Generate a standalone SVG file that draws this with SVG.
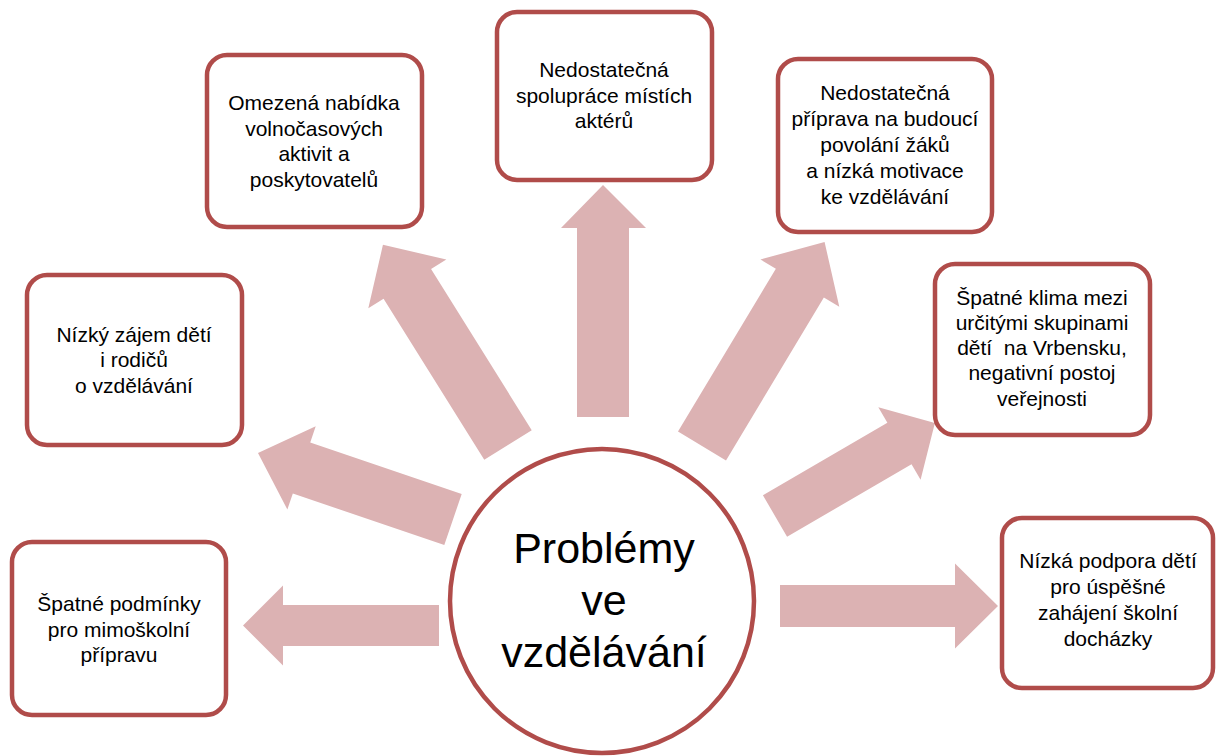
<svg xmlns="http://www.w3.org/2000/svg" width="1216" height="756" viewBox="0 0 1216 756">
<style>
.box{fill:#ffffff;stroke:#b04c4a;stroke-width:4.5}
.arr{fill:#dcb2b3}
.t{font-family:"Liberation Sans",Arial,sans-serif;font-size:21px;fill:#000;text-anchor:middle}
.c{font-family:"Liberation Sans",Arial,sans-serif;font-size:43px;fill:#000;text-anchor:middle}
</style>
<rect width="1216" height="756" fill="#ffffff"/>
<g id="connectors">
<polygon class="arr" points="439,605 283,605 283,585.5 243,625.5 283,665.5 283,646 439,646"/>
<polygon class="arr" transform="translate(453,519.5) rotate(198.8)" points="0,-27 160,-27 160,-44 206,0 160,44 160,27 0,27"/>
<polygon class="arr" transform="translate(508,445) rotate(238)" points="0,-28 190,-28 190,-46 236,0 190,46 190,28 0,28"/>
<polygon class="arr" points="577,417 577,228 561,228 603,185 646,228 629,228 629,417"/>
<polygon class="arr" transform="translate(702,446) rotate(301)" points="0,-28 190,-28 190,-46 238,0 190,46 190,28 0,28"/>
<polygon class="arr" transform="translate(775,516) rotate(-30.2)" points="0,-24 144,-24 144,-42 185,0 144,42 144,24 0,24"/>
<polygon class="arr" points="780,585 955,585 955,563.5 998,606 955,648.5 955,627 780,627"/>
</g>
<g id="center">
<circle cx="602" cy="601" r="152" fill="#ffffff" stroke="#b04c4a" stroke-width="4.5"/>
<text class="c" x="604" y="563">Problémy</text>
<text class="c" x="604" y="615">ve</text>
<text class="c" x="604" y="667">vzdělávání</text>
</g>
<g id="box-omezena">
<rect class="box" x="207" y="55" width="215" height="172" rx="20"/>
<text class="t" x="314" y="110">Omezená nabídka</text>
<text class="t" x="314" y="135.5">volnočasových</text>
<text class="t" x="314" y="161">aktivit a</text>
<text class="t" x="314" y="186.5">poskytovatelů</text>
</g>
<g id="box-spoluprace">
<rect class="box" x="497" y="12" width="215" height="168" rx="20"/>
<text class="t" x="604" y="77">Nedostatečná</text>
<text class="t" x="604" y="103">spolupráce místích</text>
<text class="t" x="604" y="128">aktérů</text>
</g>
<g id="box-priprava">
<rect class="box" x="778" y="59" width="214" height="173" rx="20"/>
<text class="t" x="885" y="100">Nedostatečná</text>
<text class="t" x="885" y="126">příprava na budoucí</text>
<text class="t" x="885" y="152">povolání žáků</text>
<text class="t" x="885" y="178">a nízká motivace</text>
<text class="t" x="885" y="204">ke vzdělávání</text>
</g>
<g id="box-zajem">
<rect class="box" x="27" y="275" width="215" height="170" rx="20"/>
<text class="t" x="134" y="342">Nízký zájem dětí</text>
<text class="t" x="134" y="367">i rodičů</text>
<text class="t" x="134" y="393">o vzdělávání</text>
</g>
<g id="box-klima">
<rect class="box" x="935" y="264" width="215" height="171" rx="20"/>
<text class="t" x="1042" y="305">Špatné klima mezi</text>
<text class="t" x="1042" y="330">určitými skupinami</text>
<text class="t" x="1042" y="355" xml:space="preserve">dětí  na Vrbensku,</text>
<text class="t" x="1042" y="380">negativní postoj</text>
<text class="t" x="1042" y="406">veřejnosti</text>
</g>
<g id="box-podminky">
<rect class="box" x="12" y="542" width="214" height="173" rx="20"/>
<text class="t" x="119" y="611">Špatné podmínky</text>
<text class="t" x="119" y="637">pro mimoškolní</text>
<text class="t" x="119" y="662">přípravu</text>
</g>
<g id="box-podpora">
<rect class="box" x="1002" y="518" width="211" height="170" rx="20"/>
<text class="t" x="1108" y="568">Nízká podpora dětí</text>
<text class="t" x="1108" y="594">pro úspěšné</text>
<text class="t" x="1108" y="620">zahájení školní</text>
<text class="t" x="1108" y="646">docházky</text>
</g>
</svg>
